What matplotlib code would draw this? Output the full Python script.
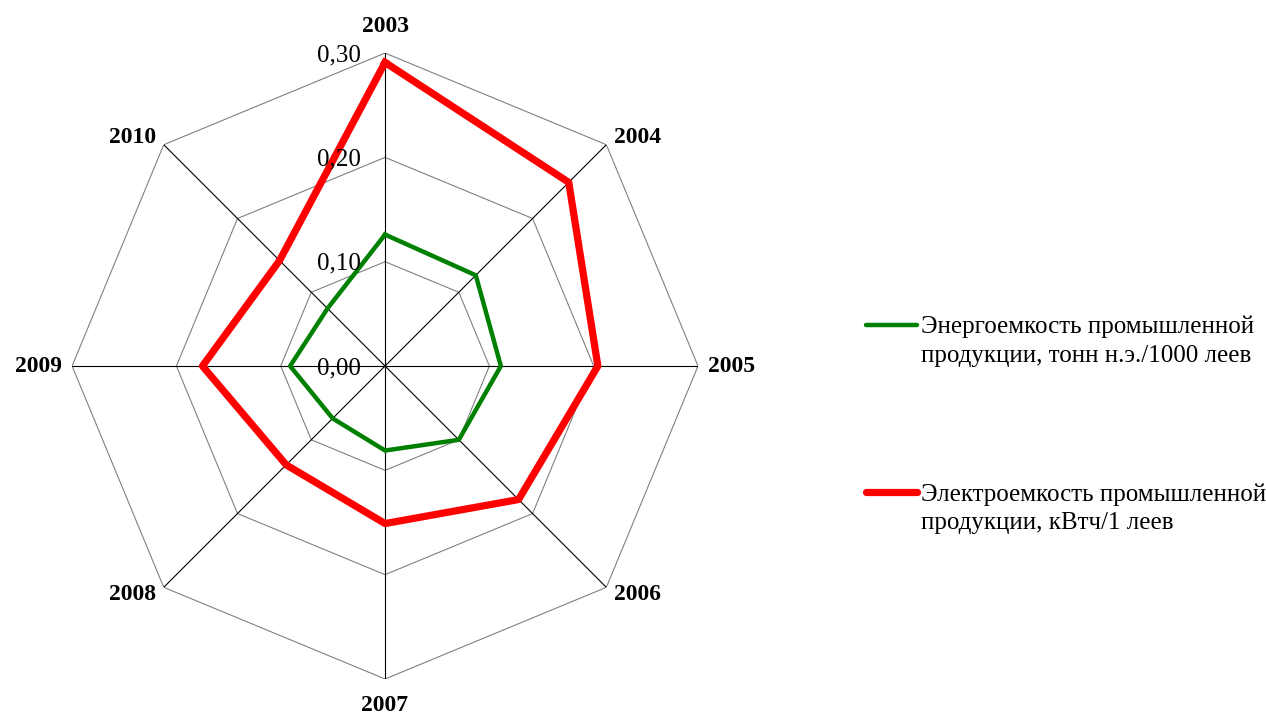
import numpy as np
import matplotlib.pyplot as plt
from matplotlib.lines import Line2D
from matplotlib.transforms import offset_copy

years = ['2003', '2004', '2005', '2006', '2007', '2008', '2009', '2010']
energy = [0.126, 0.123, 0.111, 0.100, 0.081, 0.071, 0.091, 0.078]
electro = [0.291, 0.249, 0.204, 0.181, 0.151, 0.134, 0.175, 0.143]
rings = [0.0, 0.1, 0.2, 0.3]
ring_labels = ['0,00', '0,10', '0,20', '0,30']
names = ['Энергоемкость промышленной\nпродукции, тонн н.э./1000 леев',
         'Электроемкость промышленной\nпродукции, кВтч/1 леев']

plt.rcParams['font.family'] = ['Liberation Serif', 'DejaVu Serif']

fig = plt.figure(figsize=(12.66, 7.17), dpi=100)
ax = fig.add_axes([0.0569, 0.053, 0.4945, 0.873], projection='polar')
ax.set_theta_zero_location('N')
ax.set_theta_direction(-1)
ax.set_ylim(0, 0.3)
ax.grid(False)
ax.spines['polar'].set_visible(False)
ax.set_xticks([])
ax.set_yticks([])

n = len(years)
theta = np.arange(n) * 2 * np.pi / n
tc = np.append(theta, theta[0])

# polygon grid
for r in rings[1:]:
    ax.plot(tc, [r] * (n + 1), color='#808080', lw=0.8, zorder=1)
for t in theta:
    ax.plot([t, t], [0, 0.3], color='black', lw=0.8, zorder=1)

ax.plot(tc, energy + energy[:1], color='#008000', lw=3.2, zorder=3)
ax.plot(tc, electro + electro[:1], color='#ff0000', lw=5.2, zorder=3)

tr = offset_copy(ax.transData, fig=fig, x=-24, y=-2, units='dots')
for r, lab in zip(rings, ring_labels):
    ax.text(0, r, lab, transform=tr, ha='right', va='center', fontsize=18)

for t, y in zip(theta, years):
    s = np.sin(t)
    c = np.cos(t)
    if abs(s) < 0.01:
        ha = 'center'
        va = 'bottom' if c > 0 else 'top'
        r = 0.315
    else:
        ha = 'left' if s > 0 else 'right'
        va = 'center'
        r = 0.31
    ax.text(t, r, y, ha=ha, va=va, fontsize=17, fontweight='bold')

# legend
W, H = 1266, 717
colors = ['#008000', '#ff0000']
widths = [3.2, 5.2]
ys = [325, 492]
for name, col, lw, y in zip(names, colors, widths, ys):
    fig.add_artist(Line2D([866 / W, 917 / W], [1 - y / H, 1 - y / H],
                          color=col, lw=lw, solid_capstyle='round'))
    fig.text(921 / W, 1 - (y - 9) / H, name, ha='left', va='top',
             fontsize=18, linespacing=1.4)

fig.savefig('out.png', dpi=100)
